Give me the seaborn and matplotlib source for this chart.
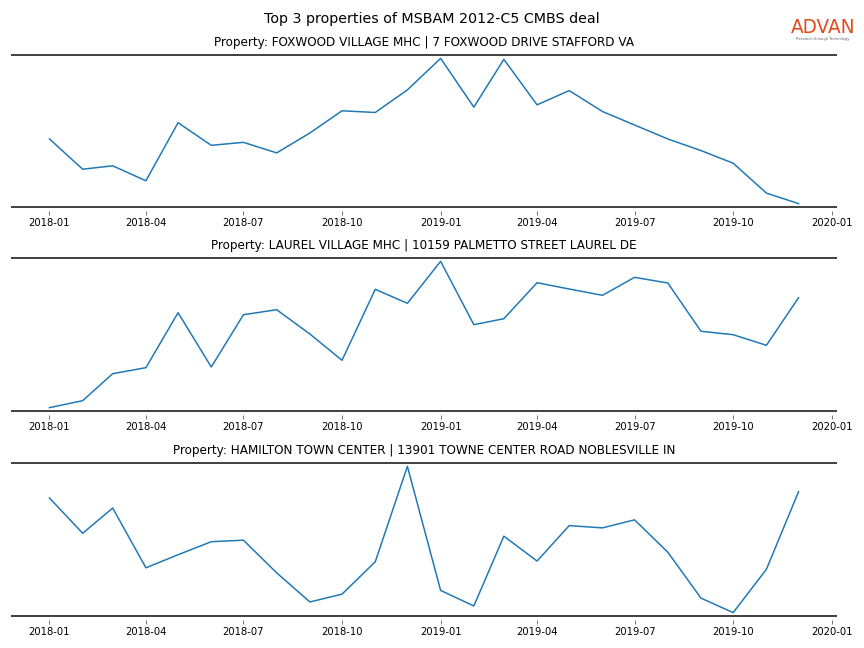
import pandas as pd
import seaborn as sns
from matplotlib import pyplot as plt
import matplotlib.dates as mdates

# monthly visit index per property, Jan 2018 - Dec 2019
months = pd.date_range('2018-01-01', '2019-12-01', freq='MS')

titles = ['Property: FOXWOOD VILLAGE MHC | 7 FOXWOOD DRIVE STAFFORD VA',
          'Property: LAUREL VILLAGE MHC | 10159 PALMETTO STREET LAUREL DE',
          'Property: HAMILTON TOWN CENTER | 13901 TOWNE CENTER ROAD NOBLESVILLE IN']

foxwood = [1614, 1006, 1074, 774, 1940, 1486, 1546, 1334, 1734, 2180, 2146, 2600,
           3234, 2254, 3214, 2300, 2586, 2166, 1894, 1614, 1380, 1126, 526, 314]
laurel = [113, 183, 453, 513, 1063, 520, 1043, 1093, 850, 587, 1297, 1157,
          1577, 943, 1003, 1363, 1300, 1237, 1417, 1360, 877, 843, 737, 1213]
hamilton = [1014, 733, 934, 458, 562, 666, 678, 418, 186, 248, 506, 1266,
            278, 154, 710, 512, 794, 776, 840, 582, 216, 101, 446, 1064]

series = [foxwood, laurel, hamilton]

fig = plt.figure(figsize=(12, 9), dpi=72)
fig.suptitle('Top 3 properties of MSBAM 2012-C5 CMBS deal', fontsize=14.3, y=0.981)

# axes boxes [left, bottom, width, height]
boxes = [[0.0139, 0.6806, 0.9537, 0.2345],
         [0.0139, 0.3657, 0.9537, 0.2362],
         [0.0139, 0.0494, 0.9537, 0.2361]]

for box, title, vals in zip(boxes, titles, series):
    ax = fig.add_axes(box)
    df = pd.DataFrame({'month': months, 'visits': vals})
    sns.lineplot(data=df, x='month', y='visits', ax=ax, color='#1f77b4', linewidth=1.5)
    ax.set_title(title, fontsize=12, pad=9)
    ax.set_xlabel('')
    ax.set_ylabel('')
    ax.set_yticks([])
    ax.margins(y=0.023)
    ax.xaxis.set_major_locator(mdates.MonthLocator(bymonth=[1, 4, 7, 10]))
    ax.xaxis.set_major_formatter(mdates.DateFormatter('%Y-%m'))
    ax.tick_params(axis='x', labelsize=10, color='#555555')
    for s in ['left', 'right']:
        ax.spines[s].set_visible(False)
    ax.spines['top'].set_color('#444444')
    ax.spines['top'].set_linewidth(2)
    # tick axis sits a few px below the frame line
    ax.spines['bottom'].set_position(('outward', 4))
    ax.spines['bottom'].set_visible(False)
    ax.plot([0, 1], [0, 0], transform=ax.transAxes, color='#444444', lw=2, clip_on=False)

# logo
fig.text(0.9525, 0.957, 'ADVAN', color='#E2491C', fontsize=18.5, ha='center', va='center')
fig.text(0.9525, 0.940, 'Research through Technology', color='#666666', fontsize=3.6,
         ha='center', va='center')

plt.savefig('out.png', dpi=72)
